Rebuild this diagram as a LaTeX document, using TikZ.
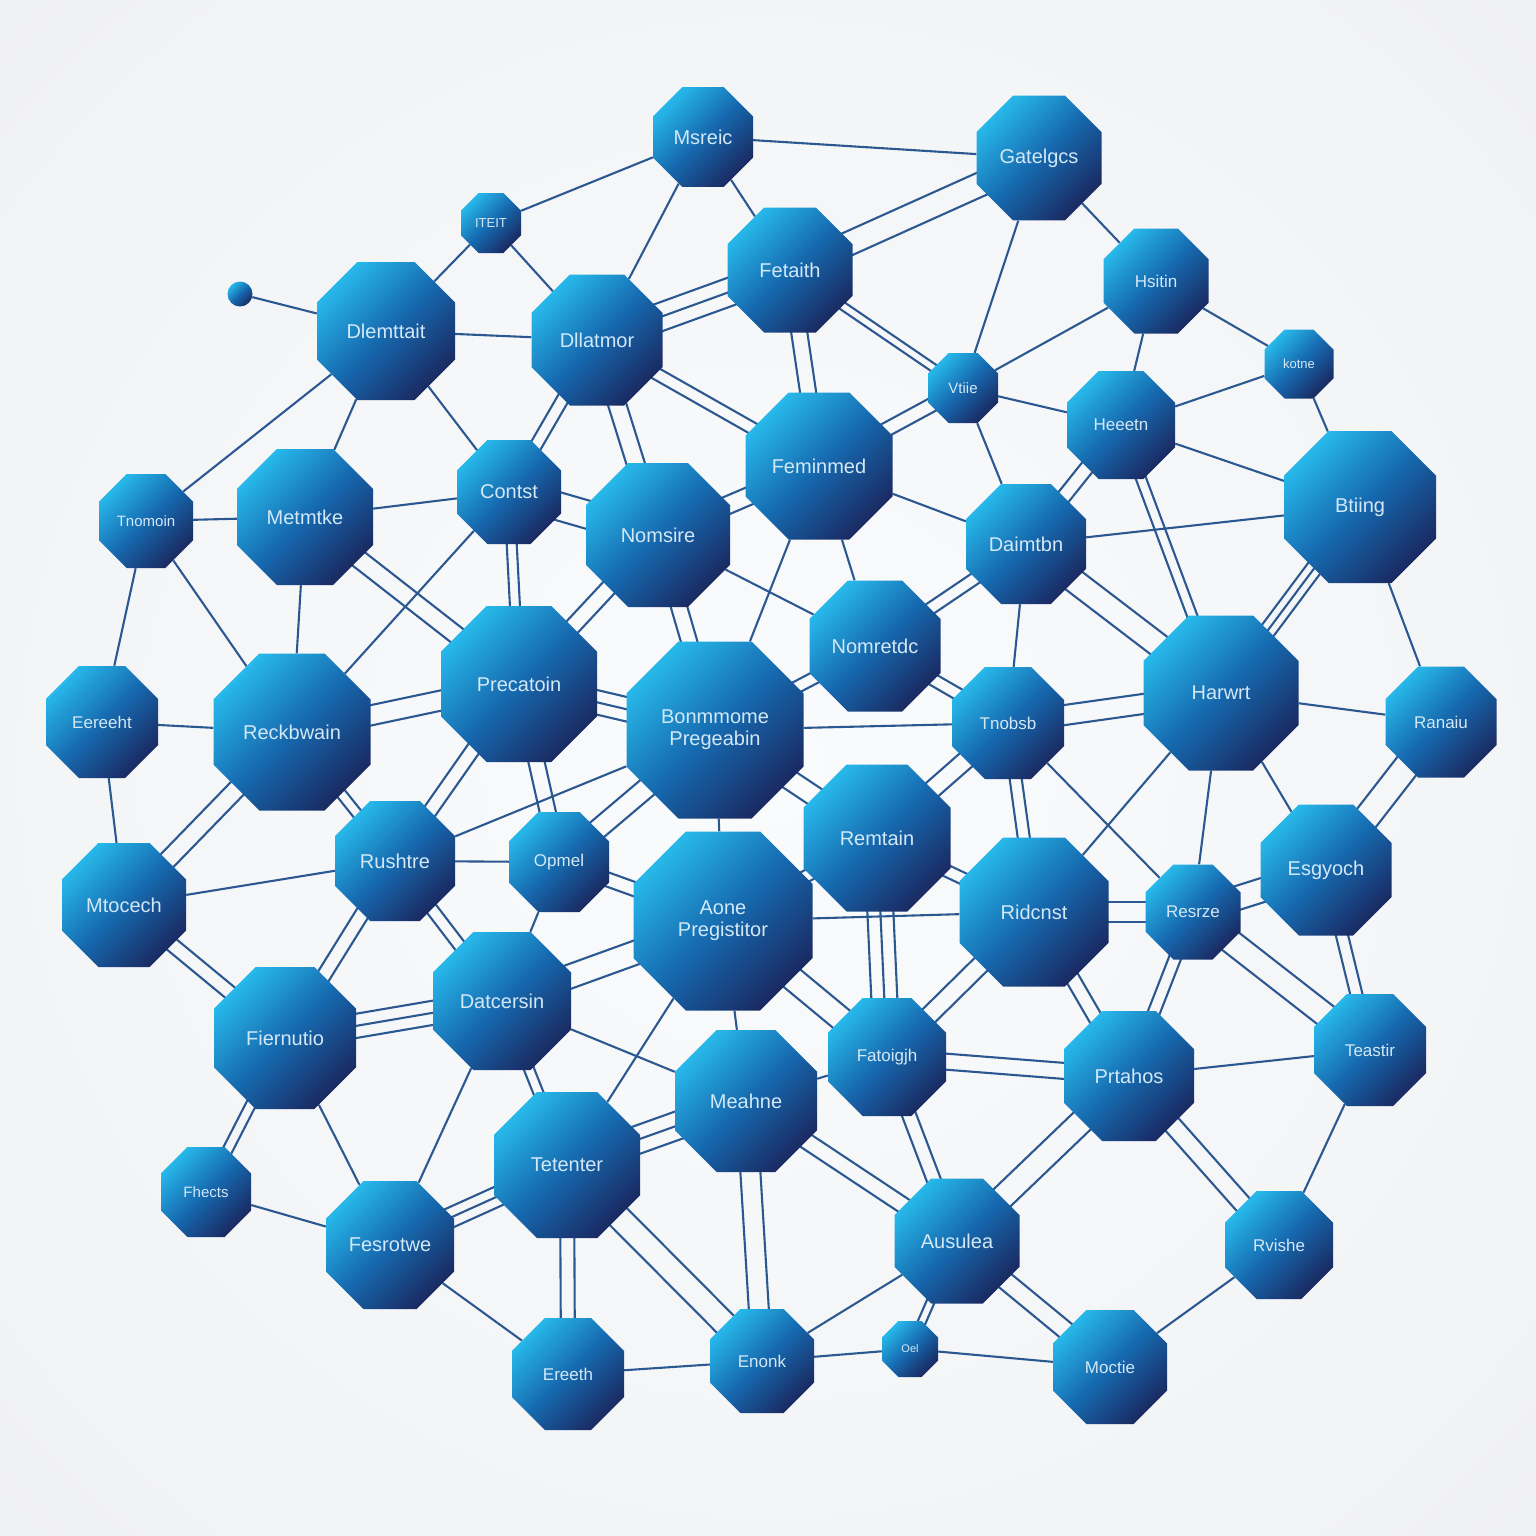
\documentclass[tikz,border=0pt]{standalone}
\usepackage{fontspec}
\setmainfont{Liberation Sans}
\usetikzlibrary{shapes.geometric,calc}
\definecolor{octtop}{HTML}{27B8EA}
\definecolor{octmid}{HTML}{1669AF}
\definecolor{octbot}{HTML}{1A2A62}
\definecolor{edgec}{HTML}{2C5891}
\definecolor{txtc}{HTML}{D2E8F6}
\definecolor{bgA}{HTML}{FAFBFC}
\definecolor{bgB}{HTML}{F2F3F4}
\definecolor{bgC}{HTML}{E6E6E8}
\definecolor{bgD}{HTML}{D8D8DA}
\pgfdeclareradialshading{bgvig}{\pgfpoint{0bp}{0bp}}{color(0bp)=(bgA); color(30bp)=(bgB); color(50bp)=(bgC); color(71bp)=(bgD)}
\pgfdeclarelayer{bglayer}
\pgfdeclarelayer{edgelayer}
\pgfsetlayers{bglayer,edgelayer,main}
\newcommand{\twolines}[3]{%
  \draw[edge] ($(#2.center)!#1pt!90:(#3.center)$) -- ($(#3.center)!#1pt!-90:(#2.center)$);
  \draw[edge] ($(#2.center)!#1pt!-90:(#3.center)$) -- ($(#3.center)!#1pt!90:(#2.center)$);}
\newcommand{\threelines}[3]{\twolines{#1}{#2}{#3}\draw[edge] (#2.center) -- (#3.center);}
\tikzset{
  oct/.style={regular polygon, regular polygon sides=8, minimum size=#1*1.0824pt, inner sep=0pt,
    top color=octtop, bottom color=octbot, middle color=octmid, shading angle=45,
    text=txtc, align=center, font=\fontsize{20}{22}\selectfont},
  fB/.style={font=\fontsize{17}{20}\selectfont},
  fC/.style={font=\fontsize{15}{17}\selectfont},
  fD/.style={font=\fontsize{13}{15}\selectfont},
  fE/.style={font=\fontsize{11}{13}\selectfont},
  edge/.style={draw=edgec, line width=2.1pt},
  ball/.style={circle, minimum size=25pt, inner sep=0pt, top color=octtop, bottom color=octbot, middle color=octmid, shading angle=45}
}
\begin{document}
\begin{tikzpicture}[x=1pt,y=-1pt]
\useasboundingbox (0,0) rectangle (1536,1536);
% nodes
\node[oct=100] (msr) at (703,137) {Msreic};
\node[oct=125] (gat) at (1039,158) {Gatelgcs};
\node[oct=60,fD] (ite) at (491,223) {ITEIT};
\node[oct=125] (fet) at (790,270) {Fetaith};
\node[oct=105,fB] (hsi) at (1156,281) {Hsitin};
\node[oct=138] (dle) at (386,331) {Dlemttait};
\node[oct=131] (dla) at (597,340) {Dllatmor};
\node[ball] (dot) at (240,294) {};
\node[oct=70,fC] (vti) at (963,388) {Vtiie};
\node[oct=69,fD] (lox) at (1299,364) {kotne};
\node[oct=108,fB] (hae) at (1121,425) {Heeetn};
\node[oct=147] (fem) at (819,466) {Feminmed};
\node[oct=104] (con) at (509,492) {Contst};
\node[oct=94,fC] (tno) at (146,521) {Tnomoin};
\node[oct=136] (met) at (305,517) {Metmtke};
\node[oct=144] (nom) at (658,535) {Nomsire};
\node[oct=120] (dai) at (1026,544) {Daimtbn};
\node[oct=152] (bti) at (1360,507) {Btiing};
\node[oct=131] (nrt) at (875,646) {Nomretdc};
\node[oct=156] (pre) at (519,684) {Precatoin};
\node[oct=112,fB] (eer) at (102,722) {Eereeht};
\node[oct=157] (rea) at (292,732) {Reckbwain};
\node[oct=177] (bon) at (715,730) {Bonmmome\\Pregeabin};
\node[oct=112,fB] (tnb) at (1008,723) {Tnobsb};
\node[oct=155] (han) at (1221,693) {Harwrt};
\node[oct=111,fB] (rar) at (1441,722) {Ranaiu};
\node[oct=147] (rem) at (877,838) {Remtain};
\node[oct=120] (rus) at (395,861) {Rushtre};
\node[oct=100,fB] (opm) at (559,862) {Opmel};
\node[oct=124] (mto) at (124,905) {Mtocech};
\node[oct=179] (aon) at (723,921) {Aone\\Pregistitor};
\node[oct=149] (rid) at (1034,912) {Ridcnst};
\node[oct=95,fB] (res) at (1193,912) {Resrze};
\node[oct=131] (esg) at (1326,870) {Esgyoch};
\node[oct=138] (dat) at (502,1001) {Datcersin};
\node[oct=142] (fie) at (285,1038) {Fiernutio};
\node[oct=118,fB] (fal) at (887,1057) {Fatoigjh};
\node[oct=130] (prl) at (1129,1076) {Prtahos};
\node[oct=112,fB] (tas) at (1370,1050) {Teastir};
\node[oct=142] (mea) at (746,1101) {Meahne};
\node[oct=146] (tet) at (567,1165) {Tetenter};
\node[oct=90,fC] (fhe) at (206,1192) {Fhects};
\node[oct=128] (fre) at (390,1245) {Fesrotwe};
\node[oct=125] (aus) at (957,1241) {Ausulea};
\node[oct=108,fB] (rti) at (1279,1245) {Rvishe};
\node[oct=112,fB] (ete) at (568,1374) {Ereeth};
\node[oct=104,fB] (eno) at (762,1361) {Enonk};
\node[oct=56,fE] (oel) at (910,1349) {Oel};
\node[oct=114,fB] (moi) at (1110,1367) {Moctie};

\begin{pgfonlayer}{bglayer}
\shade[shading=bgvig] (0,0) rectangle (1536,1536);
\end{pgfonlayer}

\begin{pgfonlayer}{edgelayer}
% single connectors
\foreach \a/\b in {dot/dle, dle/ite, ite/dla, ite/msr, dle/dla, dle/tno, dle/met, dle/con,
  tno/met, met/con, con/rea, met/rea, tno/eer, tno/rea, eer/rea, eer/mto, mto/rus, rus/opm,
  rus/bon, nom/nrt, fem/bon, fem/nrt, bon/tnb, bon/aon, dai/tnb, opm/dat, aon/rid, aon/mea,
  aon/tet, dat/fre, dat/mea, fie/fre, fhe/fre, fre/ete, mea/fal, aus/eno, eno/ete, eno/oel,
  oel/moi, prl/tas, rti/tas, rti/moi, msr/gat, msr/dla, msr/fet, gat/vti, fem/dai, vti/dai,
  vti/hae, vti/hsi, gat/hsi, hsi/hae, hsi/lox, hae/lox, hae/bti, lox/bti, dai/bti, bti/rar,
  han/rar, han/esg, han/res, han/rid, tnb/res}
  \draw[edge] (\a) -- (\b);
% paired connectors
\foreach \d/\a/\b in {6/con/dla, 5/con/pre, 9/met/pre, 10/rea/pre, 9/rea/mto, 5/rea/rus,
  7/mto/fie, 7/rus/pre, 7/rus/fie, 6/rus/dat, 8/pre/opm, 8/nom/pre, 14/con/nom, 8/nom/bon,
  6/dai/nrt, 6/bon/nrt, 6/nrt/tnb, 10/bon/rem, 10/bon/opm, 9/tnb/rem, 6/tnb/rid, 7/opm/aon,
  6/aon/rem, 6/rem/rid, 12/aon/fal, 9/rid/fal, 12/aon/dat, 5/dat/tet, 5/fie/fhe, 7/tet/ete,
  12/tet/eno, 10/mea/eno, 8/mea/aus, 7/fal/aus, 8/fal/prl, 12/aus/prl, 4/aus/oel, 9/aus/moi,
  9/prl/rti, 7/rid/prl, 6/res/prl, 6/esg/tas, 12/res/tas, 12/fet/gat, 6/dla/fem, 9/dla/nom,
  8/fet/fem, 4/fet/vti, 7/vti/fem, 9/nom/fem, 7/hae/dai, 5/hae/han, 12/dai/han, 10/tnb/han,
  13/rar/esg, 10/rid/res, 12/res/esg}
  \twolines{\d}{\a}{\b};
% triple connectors
\foreach \d/\a/\b in {12/pre/bon, 13/rem/fal, 12/dat/fie, 10/fre/tet, 14/tet/mea, 14/dla/fet, 8/bti/han}
  \threelines{\d}{\a}{\b};
\end{pgfonlayer}
\end{tikzpicture}
\end{document}
